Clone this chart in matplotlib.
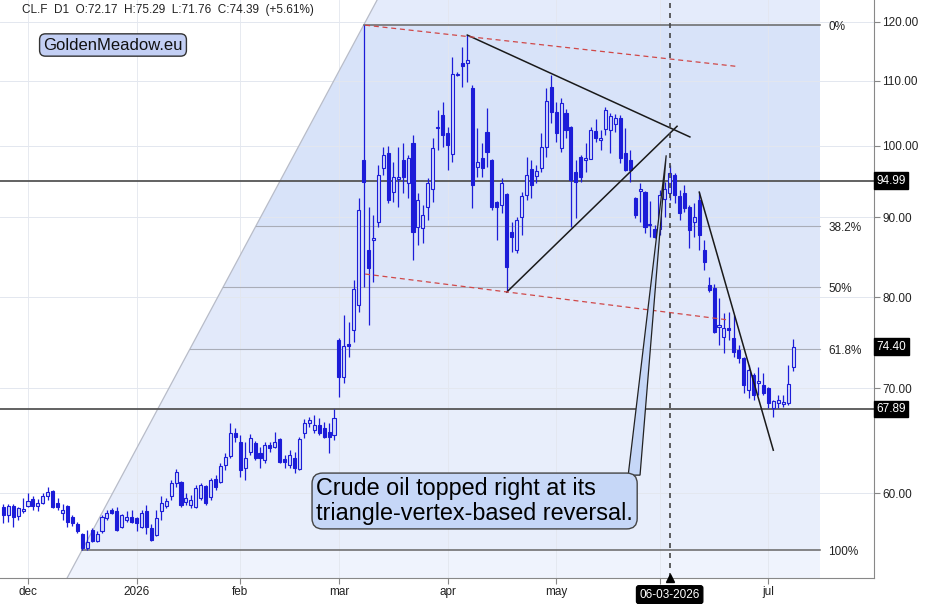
import numpy as np
import pandas as pd
import matplotlib
matplotlib.use('Agg')
import matplotlib.pyplot as plt
from matplotlib.patches import Polygon
from matplotlib.ticker import NullLocator
import matplotlib.transforms as mtransforms

plt.rcParams['font.family'] = ['Liberation Sans', 'DejaVu Sans']

# daily OHLC, CL.F
open_ = [58.8, 58.1, 58.9, 58.0, 58.4, 58.9, 59.5, 58.9, 59.1, 59.7,
         60.2, 59.15, 58.25, 58.9, 57.9, 57.3, 56.5, 55.3, 56.8, 55.9,
         56.7, 57.8, 58.5, 58.4, 57.1, 57.7, 57.95, 57.8, 57.1, 58.4,
         57.0, 56.4, 58.45, 58.9, 59.7, 60.9, 61.0, 59.2, 58.95, 58.78,
         59.56, 60.62, 59.65, 61.25, 60.98, 62.52, 63.36, 65.54, 64.67, 62.24,
         63.73, 64.58, 63.64, 62.98, 64.39, 64.2, 64.96, 63.08, 62.52, 63.17,
         62.15, 65.54, 66.51, 65.82, 66.31, 66.02, 65.63, 65.34, 75.14, 71.16,
         74.7, 76.25, 79.11, 97.91, 85.77, 87.04, 89.38, 96.76, 98.92, 93.4,
         95.21, 97.91, 94.65, 100.38, 88.72, 88.59, 91.37, 93.82, 102.63, 104.61,
         101.88, 98.78, 111.0, 113.0, 113.0, 108.9, 96.9, 98.2, 102.1, 97.91,
         92.05, 91.64, 93.14, 88.07, 85.77, 90.03, 93.0, 96.62, 95.63, 96.76,
         99.8, 109.0, 105.1, 99.65, 104.9, 102.78, 96.2, 98.34, 97.91, 98.05,
         102.17, 100.83, 102.48, 102.33, 103.23, 104.1, 98.92, 97.91, 92.59, 93.55,
         93.41, 88.98, 88.46, 88.46, 92.46, 93.27, 95.77, 92.86, 93.27, 91.37,
         89.38, 92.32, 85.77, 81.47, 81.11, 76.6, 75.48, 76.48, 75.37, 74.04,
         73.17, 69.81, 71.37, 70.54, 70.33, 70.0, 67.99, 68.49, 68.39, 68.49,
         72.17]
high = [59.0, 59.0, 59.0, 58.8, 59.6, 60.0, 59.7, 59.5, 60.0, 60.5,
        60.3, 59.6, 59.0, 58.95, 58.1, 57.5, 56.6, 56.8, 57.0, 56.7,
        58.1, 58.5, 58.7, 58.8, 58.2, 58.4, 58.5, 57.95, 58.5, 58.95,
        57.3, 58.5, 59.7, 59.6, 61.2, 62.2, 61.1, 60.0, 59.82, 60.71,
        60.89, 60.71, 61.34, 61.61, 62.7, 63.64, 66.51, 66.02, 65.34, 64.67,
        65.44, 64.77, 64.2, 64.67, 64.67, 65.63, 65.05, 63.45, 63.92, 63.73,
        65.15, 66.9, 67.1, 67.29, 67.0, 66.6, 66.51, 67.89, 75.37, 77.95,
        77.15, 82.1, 92.59, 119.4, 91.37, 90.3, 97.19, 99.8, 99.94, 97.62,
        99.8, 100.38, 98.63, 101.58, 93.27, 91.64, 95.35, 101.13, 105.38, 106.63,
        102.78, 113.9, 111.4, 115.6, 117.67, 109.33, 102.6, 100.38, 105.7, 98.05,
        92.2, 95.35, 93.27, 89.38, 90.03, 93.4, 98.34, 97.91, 97.19, 101.88,
        108.85, 110.94, 106.63, 107.3, 105.53, 102.93, 97.91, 98.63, 100.38, 102.78,
        103.99, 102.33, 105.84, 104.92, 104.77, 104.61, 102.6, 99.36, 92.73, 94.65,
        93.5, 92.19, 88.98, 93.68, 94.8, 97.19, 96.06, 93.68, 94.37, 91.64,
        91.91, 93.41, 87.04, 82.44, 81.59, 79.93, 78.19, 78.3, 77.95, 74.59,
        73.28, 72.43, 71.58, 72.2, 71.58, 70.1, 68.79, 69.3, 69.3, 72.43,
        75.29]
low = [57.4, 57.5, 57.1, 57.7, 58.3, 58.8, 58.5, 58.4, 59.0, 59.4,
       58.7, 58.5, 57.7, 57.1, 57.2, 56.6, 55.2, 55.2, 55.8, 55.8,
       56.6, 57.7, 58.2, 56.7, 57.0, 57.5, 57.4, 56.7, 57.0, 56.5,
       55.9, 56.3, 57.7, 58.7, 59.4, 60.5, 58.8, 58.95, 58.7, 58.7,
       59.39, 58.95, 59.39, 60.26, 60.89, 62.06, 63.17, 64.67, 61.43, 61.16,
       63.45, 62.98, 62.24, 62.7, 63.73, 64.11, 62.7, 62.24, 62.24, 61.79,
       62.06, 65.05, 66.1, 65.54, 65.34, 65.05, 63.64, 64.86, 69.1, 70.54,
       73.28, 74.9, 78.3, 81.23, 76.82, 81.83, 88.72, 95.77, 91.91, 92.05,
       91.37, 93.27, 92.59, 84.52, 86.4, 86.65, 89.64, 92.05, 99.36, 99.8,
       96.48, 97.62, 110.8, 109.0, 109.8, 91.24, 95.49, 95.49, 96.9, 90.97,
       87.04, 90.57, 80.63, 85.52, 85.4, 87.69, 92.32, 92.59, 94.65, 96.2,
       98.34, 103.4, 100.53, 99.07, 101.13, 88.72, 89.9, 94.8, 96.2, 98.2,
       100.53, 99.36, 101.58, 98.92, 102.0, 97.48, 96.3, 94.8, 89.9, 89.38,
       87.96, 87.43, 87.3, 87.69, 90.03, 92.32, 91.91, 89.64, 90.7, 86.02,
       87.43, 85.77, 83.29, 80.63, 75.92, 74.59, 73.72, 75.14, 73.28, 72.65,
       69.51, 69.0, 68.79, 69.3, 69.3, 67.99, 67.1, 67.99, 68.09, 68.29,
       71.76]
close = [58.1, 58.9, 57.95, 58.7, 58.6, 59.3, 58.9, 59.1, 59.7, 60.1,
         58.8, 58.75, 58.5, 57.5, 57.45, 56.7, 55.3, 55.8, 55.9, 56.5,
         57.95, 58.3, 58.3, 56.8, 58.1, 57.95, 57.5, 57.4, 58.3, 57.1,
         56.0, 57.8, 59.1, 59.3, 60.9, 61.9, 58.95, 59.56, 59.4, 60.44,
         60.71, 59.12, 61.16, 60.53, 62.43, 63.26, 65.54, 65.15, 62.06, 63.17,
         65.05, 63.17, 63.17, 64.39, 64.11, 64.67, 62.8, 62.8, 63.45, 62.24,
         64.96, 66.51, 66.8, 66.31, 65.54, 65.15, 65.15, 67.0, 71.16, 74.48,
         74.48, 81.0, 90.97, 94.8, 83.53, 87.3, 95.77, 98.63, 92.32, 95.49,
         95.49, 95.49, 98.2, 88.07, 92.32, 90.3, 94.65, 99.65, 102.78, 101.58,
         100.09, 111.1, 111.1, 112.5, 113.4, 94.37, 97.62, 96.76, 99.1, 91.37,
         91.37, 94.65, 83.66, 87.43, 89.64, 92.86, 95.77, 94.37, 96.34, 99.8,
         106.8, 105.1, 101.88, 106.5, 102.33, 95.07, 94.8, 95.49, 98.2, 102.33,
         101.13, 101.13, 105.38, 104.4, 104.1, 98.2, 96.48, 96.48, 90.3, 93.82,
         88.72, 89.11, 87.43, 93.0, 93.82, 96.06, 93.0, 90.57, 91.24, 88.33,
         90.03, 87.69, 84.28, 80.87, 76.02, 76.82, 76.48, 76.25, 73.83, 73.17,
         70.33, 71.9, 69.3, 70.75, 69.51, 68.49, 68.69, 68.79, 68.59, 70.43,
         74.39]

dates = pd.bdate_range('2025-11-24', '2026-07-08')
dates = dates[~dates.isin(pd.to_datetime(['2025-12-25', '2026-01-01']))]

month_labels = ['dec', '2026', 'feb', 'mar', 'apr', 'may', '', 'jul']
price_ticks = [60, 70, 80, 90, 100, 110, 120]
fib_ratios = [0.0, 0.382, 0.5, 0.618, 1.0]
fib_names = ['0%', '38.2%', '50%', '61.8%', '100%']
level_lines = [94.99, 67.89]
last_label = 74.40
marker_date = pd.Timestamp('2026-06-03')
header = 'CL.F  D1  O:72.17  H:75.29  L:71.76  C:74.39  (+5.61%)'
note = 'Crude oil topped right at its\ntriangle-vertex-based reversal.'

# hand drawn lines, (bar index, price)
tri_upper = [(94, 117.67), (139.1, 101.3)]
tri_lower = [(102, 80.63), (136.5, 102.9)]
down_line = [(141, 93.4), (156, 63.9)]
red_upper = [(73.3, 119.4), (148.3, 112.4)]
red_lower = [(73.3, 82.8), (146.8, 77.4)]
callout = [(126.6, 61.6), (134.3, 98.6), (129.0, 61.6)]
fib_right = 165.5

BLUE = '#1c1cd8'

fig = plt.figure(figsize=(9.45, 6.04), dpi=100)
ax = fig.add_axes([0, 1 - 578 / 604, 874 / 945, 578 / 604])
ax.set_yscale('log')
ax.set_ylim(52.95, 123.9)
ax.set_xlim(-0.67, 176.4)

o, h, l, c = map(np.array, (open_, high, low, close))
x = np.arange(len(c))

# fibonacci tool: diagonal from the low to the high, shaded bands to the right
i_lo, i_hi = int(np.argmin(l)), int(np.argmax(h))
p_lo, p_hi = l[i_lo], h[i_hi]
fib_levels = [np.exp(np.log(p_hi) - r * (np.log(p_hi) - np.log(p_lo))) for r in fib_ratios]


def diag_x(p):
    return i_lo + (np.log(p) - np.log(p_lo)) / (np.log(p_hi) - np.log(p_lo)) * (i_hi - i_lo)


ymin, ymax = ax.get_ylim()
edges = [ymax] + fib_levels + [ymin]
band_colors = ['#e4ebfb', '#d8e3f9', '#dde6f9', '#e2e9fa', '#e8eefb', '#eff3fd']
for top, bot, col in zip(edges[:-1], edges[1:], band_colors):
    ax.add_patch(Polygon([(diag_x(bot), bot), (fib_right, bot), (fib_right, top), (diag_x(top), top)],
                         closed=True, facecolor=col, edgecolor='none', zorder=0.5))
ax.plot([diag_x(ymin), diag_x(ymax)], [ymin, ymax], color='#b8bcc8', lw=0.9, zorder=1)

# faint grid
first_idx = [i for i in range(1, len(dates)) if dates[i].month != dates[i - 1].month]
for i in first_idx:
    ax.axvline(i, color='#e3e6ee', lw=0.6, zorder=0.8)
for p in price_ticks:
    ax.axhline(p, color='#e3e7ef', lw=0.7, zorder=0.8)

for r, p, name in zip(fib_ratios, fib_levels, fib_names):
    strong = r in (0.0, 1.0)
    ax.plot([diag_x(p), fib_right], [p, p], color='#666666' if strong else '#a9adb8',
            lw=1.1 if strong else 0.8, zorder=1.2)
    ax.text(fib_right + 1.6, p * 0.997, name, fontsize=8.5, color='#222222', va='center', ha='left')

for p in level_lines:
    ax.axhline(p, color='#555555', lw=1.3, zorder=2)

# candles
ax.vlines(x, l, h, color=BLUE, lw=0.9, zorder=4)
lo_b, hi_b = np.minimum(o, c), np.maximum(o, c)
up = c >= o
ax.bar(x[up], (hi_b - lo_b)[up], bottom=lo_b[up], width=0.62, facecolor='#d3dbf8',
       edgecolor=BLUE, linewidth=0.8, zorder=5)
ax.bar(x[~up], (hi_b - lo_b)[~up], bottom=lo_b[~up], width=0.62, facecolor=BLUE,
       edgecolor=BLUE, linewidth=0.8, zorder=5)

# drawings
for seg in (tri_upper, tri_lower, down_line):
    ax.plot(*zip(*seg), color='#1a1a1a', lw=1.1, zorder=6)
for seg in (red_upper, red_lower):
    ax.plot(*zip(*seg), color='#d04848', lw=0.9, ls=(0, (4, 3)), zorder=6)
ax.add_patch(Polygon(callout, closed=True, facecolor='#c6d7f7', edgecolor='#222222', lw=0.9, zorder=7))

mark_i = int(np.where(dates == marker_date)[0][0])
ax.axvline(mark_i, color='#444444', lw=1.2, ls=(0, (3, 3)), zorder=6)

ax.text(63.4, 59.3, note, fontsize=16.8, ha='left', va='center', linespacing=1.08, zorder=8,
        bbox=dict(boxstyle='round,pad=0.18,rounding_size=0.45', facecolor='#c6d7f7', edgecolor='#444444', lw=1))

# axes styling
ax.yaxis.tick_right()
ax.set_yticks(price_ticks)
ax.set_yticklabels([f'{p:.2f}' for p in price_ticks])
ax.yaxis.set_minor_locator(NullLocator())
ax.set_xticks(first_idx)
ax.set_xticklabels(month_labels)
ax.tick_params(axis='both', direction='out', length=4, color='#888888', labelsize=8.5,
               labelcolor='#222222', pad=2)
for s in ('top', 'left'):
    ax.spines[s].set_visible(False)
for s in ('right', 'bottom'):
    ax.spines[s].set_color('#888888')

trans = mtransforms.blended_transform_factory(ax.transAxes, ax.transData)
for p in level_lines + [last_label]:
    ax.text(1.003, p, f'{p:.2f}', transform=trans, fontsize=8.5, color='white', ha='left', va='center',
            zorder=10, clip_on=False, bbox=dict(boxstyle='square,pad=0.2', facecolor='black', edgecolor='black'))

ax.annotate(marker_date.strftime('%m-%d-%Y'), xy=(mark_i, 0), xycoords=('data', 'axes fraction'),
            xytext=(0, -12), textcoords='offset points', ha='center', va='center', color='white',
            fontsize=8.5, zorder=10, annotation_clip=False,
            bbox=dict(boxstyle='round,pad=0.25,rounding_size=0.2', facecolor='black', edgecolor='black'))
ax.plot([mark_i], [0], transform=mtransforms.blended_transform_factory(ax.transData, ax.transAxes),
        marker='^', ms=6, color='black', clip_on=False, zorder=10)

fig.text(22 / 945, 1 - 10 / 604, header, fontsize=8.5, color='#222222', va='center', ha='left')
fig.text(113 / 945, 1 - 45 / 604, 'GoldenMeadow.eu', fontsize=12, color='#111111', va='center', ha='center',
         bbox=dict(boxstyle='round,pad=0.22,rounding_size=0.35', facecolor='#c3cff4', edgecolor='#333333', lw=1))

fig.savefig('out.png', dpi=100)
